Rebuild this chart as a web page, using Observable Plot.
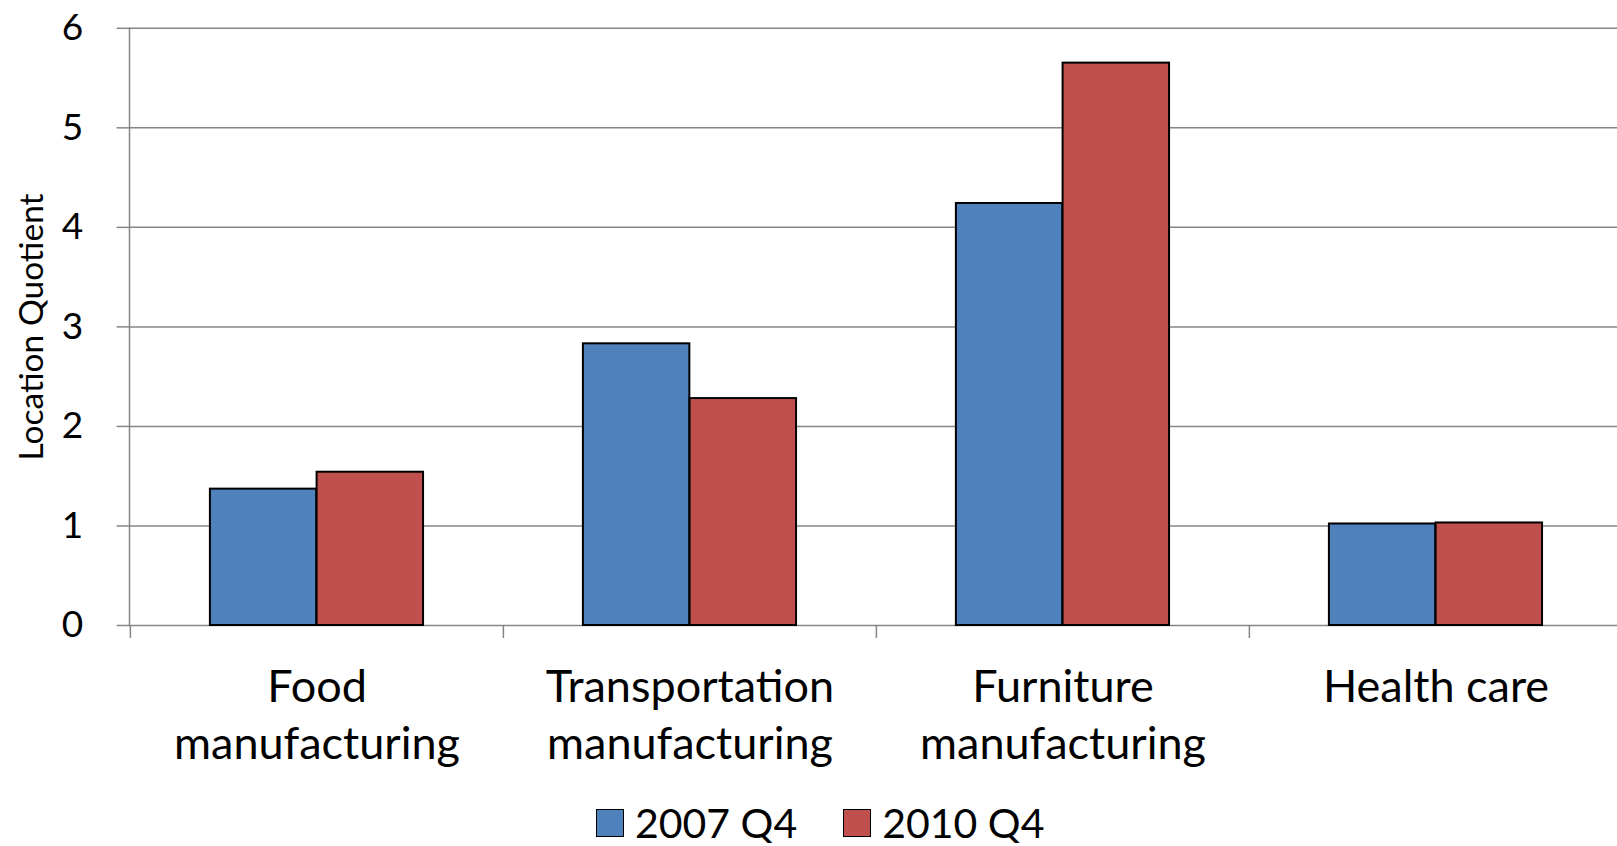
<!DOCTYPE html>
<html>
<head>
<meta charset="utf-8">
<script src="https://cdn.jsdelivr.net/npm/d3@7"></script>
<script src="https://cdn.jsdelivr.net/npm/@observablehq/plot@0.6"></script>
<style>
  html, body { margin: 0; padding: 0; background: #fff; overflow: hidden; }
  #chart svg { display: block; max-width: none !important; }
  #legend { height: 40px; padding-top: 8px; display: flex; align-items: center; padding-left: 596px;
            font-family: Lato, sans-serif; font-size: 41px; line-height: 0.95; color: #000; }
  .sw { width: 26px; height: 26px; border: 1.5px solid #000; margin-right: 11px; }
  .item { display: flex; align-items: center; margin-right: 46px; }
</style>
</head>
<body>
<div id="chart"></div>
<div id="legend"></div>
<script>
// ---- data ----
const categories = ["Food manufacturing", "Transportation manufacturing", "Furniture manufacturing", "Health care"];
const categoryLines = [["Food", "manufacturing"], ["Transportation", "manufacturing"], ["Furniture", "manufacturing"], ["Health care"]];
const series = ["2007 Q4", "2010 Q4"];
const values2007 = [1.37, 2.83, 4.24, 1.02];
const values2010 = [1.54, 2.28, 5.65, 1.03];
const yTicks = [0, 1, 2, 3, 4, 5, 6];
const yLabel = "Location Quotient";
const colors = ["#4F81BD", "#C0504D"];

const rows2007 = categories.map((c, i) => ({category: c, series: series[0], value: values2007[i]}));
const rows2010 = categories.map((c, i) => ({category: c, series: series[1], value: values2010[i]}));

const W = 1617, H = 795;
const left = 129, right = 1622;
const step = (right - left) / categories.length;
const gap = 79.9, barW = 106.7;
const grid = "#868686";

const chart = Plot.plot({
  width: W,
  height: H,
  marginLeft: left,
  marginRight: W - right,
  marginTop: 27.8,
  marginBottom: H - 625,
  style: {fontFamily: "Lato, sans-serif", color: "#000", background: "#fff"},
  x: {domain: categories, range: [left, right], padding: 0, axis: null},
  y: {domain: [0, 6], axis: null},
  color: {domain: series, range: colors},
  marks: [
    Plot.ruleY(yTicks, {stroke: grid, strokeWidth: 1.5}),
    Plot.axisY({ticks: yTicks, tickSize: 12.4, tickPadding: 34, fontSize: 37, stroke: grid, strokeWidth: 1.5, strokeOpacity: 1, label: null, tickFormat: d => String(d)}),
    Plot.frame({anchor: "left", stroke: grid, strokeWidth: 1.5}),
    Plot.ruleX(categories, {x: d => d, y1: 0, y2: 0, insetBottom: -13, dx: -step / 2, stroke: grid, strokeWidth: 1.5}),
    Plot.barY(rows2007, {x: "category", y: "value", fill: "series", stroke: "#000", strokeWidth: 2, insetLeft: gap, insetRight: step - gap - barW}),
    Plot.barY(rows2010, {x: "category", y: "value", fill: "series", stroke: "#000", strokeWidth: 2, insetLeft: gap + barW, insetRight: step - gap - 2 * barW}),
    Plot.text(categories, {x: d => d, y: 0, text: (d, i) => categoryLines[i].join("\n"), fontSize: 45, lineHeight: 1.284, lineAnchor: "top", dy: 35, fill: "#000"}),
    Plot.text([yLabel], {frameAnchor: "left", text: d => d, rotate: -90, textAnchor: "middle", dx: -97, fontSize: 33.5, fill: "#000"})
  ]
});
document.getElementById("chart").appendChild(chart);

const legend = document.getElementById("legend");
series.forEach((s, i) => {
  const item = document.createElement("div");
  item.className = "item";
  const sw = document.createElement("div");
  sw.className = "sw";
  sw.style.background = colors[i];
  const t = document.createElement("span");
  t.textContent = s;
  item.appendChild(sw);
  item.appendChild(t);
  legend.appendChild(item);
});
</script>
</body>
</html>
